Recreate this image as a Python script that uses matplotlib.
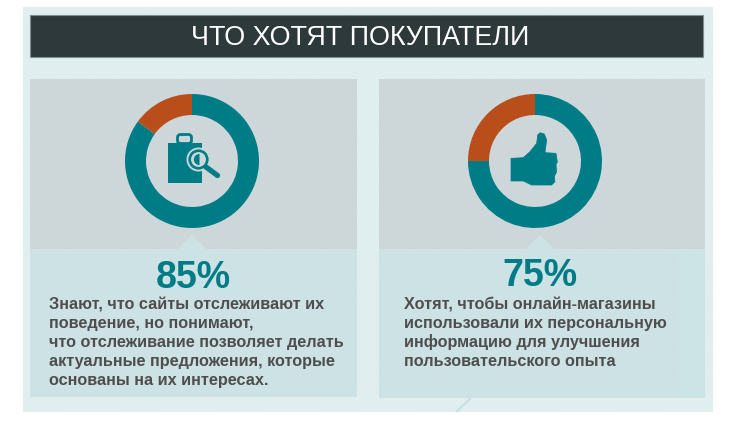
import matplotlib.pyplot as plt
from matplotlib.patches import Circle, Polygon, Rectangle, FancyBboxPatch, Wedge

# Values
title = "ЧТО ХОТЯТ ПОКУПАТЕЛИ"
agree_share = [85, 75]
other_share = [15, 25]
captions = [
    "Знают, что сайты отслеживают их\nповедение, но понимают,\nчто отслеживание позволяет делать\nактуальные предложения, которые\nоснованы на их интересах.",
    "Хотят, чтобы онлайн-магазины\nиспользовали их персональную\nинформацию для улучшения\nпользовательского опыта",
]

TEAL = "#007c87"
ORANGE = "#b94e1b"
GREY = "#cdd7da"
PALE = "#cce2e5"
BACK = "#e0eeef"
DARK = "#2e393b"
TEXT = "#4f4d4d"

W, H = 739, 423

plt.rcParams["font.family"] = "Liberation Sans"
plt.rcParams["hatch.linewidth"] = 0.6

fig = plt.figure(figsize=(W / 100, H / 100), dpi=100)
ax = fig.add_axes([0, 0, 1, 1])
ax.set_xlim(0, W)
ax.set_ylim(H, 0)
ax.axis("off")


def box(x0, y0, x1, y1, color, hatch_color=None, z=1):
    ax.add_patch(
        Rectangle(
            (x0, y0), x1 - x0, y1 - y0,
            facecolor=color,
            edgecolor=hatch_color if hatch_color else color,
            hatch="///" if hatch_color else None,
            linewidth=0,
            zorder=z,
        )
    )


def bag_icon():
    box(168, 143, 202, 183, TEAL, z=3)
    ax.add_patch(
        FancyBboxPatch(
            (177.5, 134.5), 14, 9,
            boxstyle="round,pad=0,rounding_size=3",
            facecolor="none", edgecolor=TEAL, linewidth=2, zorder=3,
        )
    )
    # lens cut out of the bag, then ring, glass and handle
    ax.add_patch(Circle((198.5, 159.5), 12, facecolor=GREY, linewidth=0, zorder=4))
    ax.add_patch(Circle((198.5, 159.5), 8.8, facecolor=GREY, edgecolor=TEAL, linewidth=1.9, zorder=5))
    ax.add_patch(Wedge((199.5, 159.5), 5.6, 90, 270, facecolor=TEAL, linewidth=0, zorder=6))
    ax.plot([206, 217.5], [167, 175.5], color=TEAL, linewidth=3.8,
            solid_capstyle="round", zorder=5)


def thumb_icon():
    outline = [
        (48, 115), (48, 183), (85, 183), (110, 195), (170, 195), (180, 185),
        (178, 170), (185, 155), (183, 135), (187, 125), (183, 100), (150, 98),
        (155, 60), (148, 42), (135, 38), (128, 45), (125, 70), (105, 95), (85, 113),
    ]
    pts = [(495 + px / 3, 120 + py / 3) for px, py in outline]
    ax.add_patch(Polygon(pts, closed=True, facecolor=TEAL, edgecolor=TEAL,
                         linewidth=0.5, zorder=3))


# --------------------------------------------------
# Background and title
# --------------------------------------------------

box(23, 7, 713, 412, BACK, "#e4f0f0")
box(30, 15, 703, 57, DARK, z=2)
ax.add_patch(Rectangle((30, 15), 673, 42, facecolor="none", edgecolor="#7f8f8f",
                       linewidth=0.8, zorder=2))
ax.text(360, 38, title, color="white", fontsize=19.4, ha="center", va="center", zorder=3)

# --------------------------------------------------
# Panels
# --------------------------------------------------

panels = [
    {"x0": 30, "x1": 357, "y1": 397, "cx": 192, "tip": 192, "num_x": 193, "num_y": 288, "text_x": 49},
    {"x0": 379, "x1": 705, "y1": 398, "cx": 535, "tip": 540, "num_x": 540, "num_y": 286, "text_x": 404},
]

for i, p in enumerate(panels):
    box(p["x0"], 79, p["x1"], 249, GREY, "#d0d9dc")
    box(p["x0"], 249, p["x1"], p["y1"], PALE, z=2)
    ax.add_patch(
        Polygon(
            [(p["tip"] - 14, 249), (p["tip"], 235), (p["tip"] + 14, 249)],
            closed=True, facecolor=PALE, linewidth=0, zorder=2,
        )
    )

    # donut, one axes per panel sized in pixels
    r = 67
    pie_ax = fig.add_axes([(p["cx"] - r) / W, 1 - (161 + r) / H, 2 * r / W, 2 * r / H])
    pie_ax.pie(
        [agree_share[i], other_share[i]],
        colors=[TEAL, ORANGE],
        startangle=90,
        counterclock=False,
        radius=1,
        wedgeprops={"width": 21 / 67, "linewidth": 0},
    )
    pie_ax.set_xlim(-1, 1)
    pie_ax.set_ylim(-1, 1)

    ax.text(p["num_x"], p["num_y"], f"{agree_share[i]}%", color=TEAL, fontsize=27,
            fontweight="bold", ha="center", va="baseline", zorder=4)

    for j, line in enumerate(captions[i].split("\n")):
        ax.text(p["text_x"], 309 + 19 * j, line, color=TEXT, fontsize=11.7,
                fontweight="bold", ha="left", va="baseline", zorder=4)

# lighter strip at the corner of the right panel and the stray line under it
box(677, 249, 705, 397, "#cde4e6", "#cce2e5", z=3)
ax.plot([457, 470], [411, 399], color="#c6e0e2", linewidth=1.5, zorder=2)

bag_icon()
thumb_icon()

fig.savefig("out.png", dpi=100)
